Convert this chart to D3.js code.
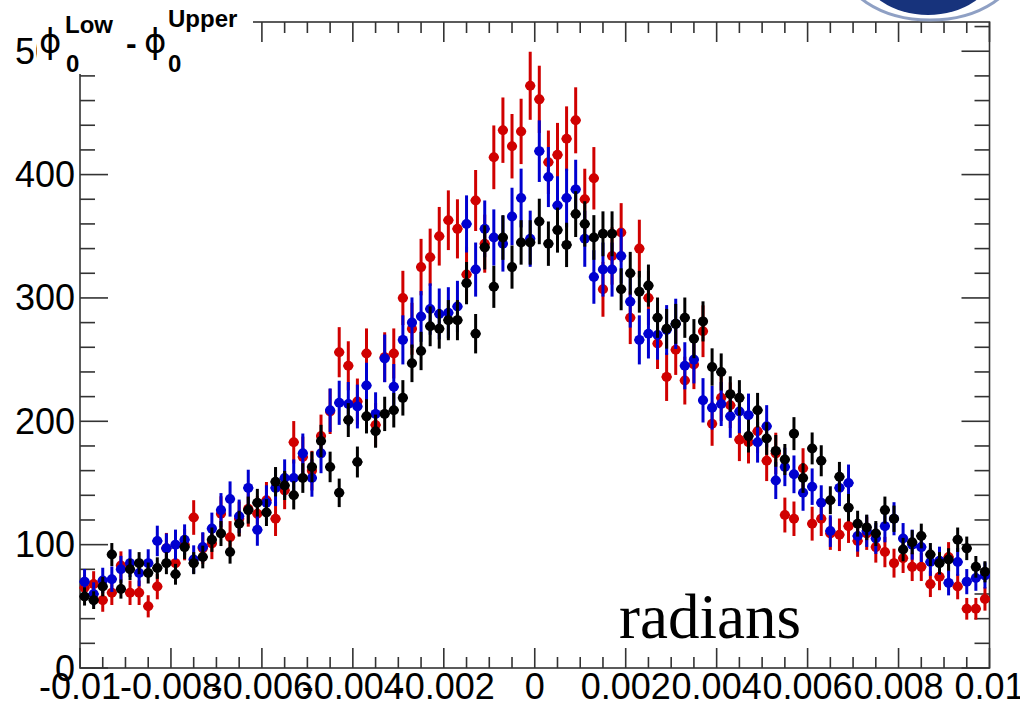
<!DOCTYPE html>
<html>
<head>
<meta charset="utf-8">
<script src="https://cdn.jsdelivr.net/npm/d3@7"></script>
<style>
  html, body { margin: 0; padding: 0; background: #ffffff; }
  svg { display: block; }
</style>
</head>
<body>
<svg id="chart" width="1020" height="712"></svg>
<script>
// Histogram binning (radians)
const xRange = [-0.01, 0.01];
const nBins = 100;

// Bin contents, one value per bin, left to right
const redCounts = [
  65, 68, 55, 61, 83, 61, 61, 50, 66, 97,
  85, 100, 122, 97, 101, 125, 106, 121, 129, 125,
  136, 121, 144, 183, 171, 160, 188, 208, 256, 245,
  216, 255, 197, 252, 255, 300, 275, 325, 333, 350,
  363, 356, 319, 379, 344, 414, 436, 423, 435, 472,
  461, 410, 416, 429, 444, 380, 397, 307, 334, 353,
  284, 340, 300, 263, 236, 258, 233, 246, 273, 198,
  219, 213, 185, 183, 192, 168, 174, 124, 121, 162,
  117, 121, 109, 108, 115, 103, 109, 98, 94, 85,
  89, 82, 82, 68, 74, 90, 66, 48, 48, 56
];
const blueCounts = [
  70, 60, 71, 72, 80, 85, 77, 85, 103, 97,
  100, 104, 88, 98, 113, 128, 137, 123, 146, 112,
  134, 146, 154, 154, 174, 154, 174, 209, 215, 214,
  212, 229, 206, 251, 228, 266, 280, 285, 291, 287,
  288, 293, 360, 323, 356, 349, 344, 366, 381, 348,
  419, 398, 375, 381, 388, 348, 317, 323, 323, 334,
  297, 266, 271, 270, 274, 279, 245, 250, 217, 211,
  214, 204, 208, 205, 183, 196, 152, 163, 157, 142,
  147, 134, 111, 146, 150, 107, 111, 105, 115, 121,
  105, 100, 98, 86, 87, 69, 86, 70, 73, 75
];
const blackCounts = [
  58, 55, 66, 92, 64, 80, 85, 77, 81, 85,
  76, 98, 85, 90, 104, 109, 94, 117, 128, 134,
  126, 151, 148, 140, 154, 163, 184, 163, 142, 201,
  167, 204, 192, 206, 209, 219, 247, 257, 277, 275,
  282, 282, 312, 271, 341, 309, 349, 325, 345, 345,
  362, 344, 355, 343, 368, 360, 349, 352, 352, 307,
  320, 305, 310, 284, 275, 279, 284, 267, 281, 244,
  240, 222, 219, 188, 209, 186, 176, 169, 190, 154,
  178, 168, 136, 155, 130, 117, 114, 109, 128, 121,
  96, 102, 107, 92, 85, 88, 104, 97, 82, 78
];

// Error-bar scale relative to sqrt(content), per histogram
const redErrScale = 1.27;
const blueErrScale = 1.22;
const blackErrScale = 0.97;

// Axis ticks and labels
const xTickValues = [-0.01, -0.008, -0.006, -0.004, -0.002, 0, 0.002, 0.004, 0.006, 0.008, 0.01];
const xTickLabels = ["-0.01", "-0.008", "-0.006", "-0.004", "-0.002", "0", "0.002", "0.004", "0.006", "0.008", "0.01"];
const xMinorStep = 0.0005;
const yTickValues = [0, 100, 200, 300, 400, 500];
const yTickLabels = ["0", "100", "200", "300", "400", "500"];
const yMinorStep = 20;
const yMax = 523.7;

const svg = d3.select("#chart");
const frame = { left: 80, right: 989.5, top: 22, bottom: 668 };

const x = d3.scaleLinear().domain(xRange).range([frame.left, frame.right]);
const y = d3.scaleLinear().domain([0, yMax]).range([frame.bottom, frame.top]);

const binWidth = (xRange[1] - xRange[0]) / nBins;
const binCenter = i => xRange[0] + (i + 0.5) * binWidth;

const axisColor = "#333333";
const labelFont = "'Liberation Sans', Arial, Helvetica, sans-serif";

// Frame
svg.append("rect")
  .attr("x", frame.left).attr("y", frame.top)
  .attr("width", frame.right - frame.left).attr("height", frame.bottom - frame.top)
  .attr("fill", "none").attr("stroke", axisColor).attr("stroke-width", 1.6);

// Ticks
const ticks = svg.append("g").attr("stroke", axisColor).attr("stroke-width", 1.6);
const xMinor = d3.range(Math.round((xRange[1] - xRange[0]) / xMinorStep) + 1).map(k => xRange[0] + k * xMinorStep);
xMinor.forEach(v => {
  const isMajor = xTickValues.some(t => Math.abs(t - v) < 1e-9);
  const len = isMajor ? 20 : 11;
  const px = x(v);
  ticks.append("line").attr("x1", px).attr("x2", px).attr("y1", frame.bottom).attr("y2", frame.bottom - len);
  ticks.append("line").attr("x1", px).attr("x2", px).attr("y1", frame.top).attr("y2", frame.top + len);
});
const yMinor = d3.range(0, yMax, yMinorStep);
yMinor.forEach(v => {
  const isMajor = yTickValues.includes(v);
  const len = isMajor ? 28 : 15;
  const py = y(v);
  ticks.append("line").attr("x1", frame.left).attr("x2", frame.left + len).attr("y1", py).attr("y2", py);
  ticks.append("line").attr("x1", frame.right).attr("x2", frame.right - len).attr("y1", py).attr("y2", py);
});

// Tick labels
svg.append("g").selectAll("text").data(xTickValues).join("text")
  .attr("x", d => x(d)).attr("y", 699)
  .attr("text-anchor", "middle")
  .attr("font-family", labelFont).attr("font-size", 36).attr("fill", "#000")
  .text((d, i) => xTickLabels[i]);

svg.append("g").selectAll("text").data(yTickValues).join("text")
  .attr("x", 75).attr("y", d => y(d))
  .attr("text-anchor", "end").attr("dominant-baseline", "central")
  .attr("font-family", labelFont).attr("font-size", 36).attr("fill", "#000")
  .text((d, i) => yTickLabels[i]);

// Histograms with error bars (drawn red, blue, then black on top)
const series = [
  { values: redCounts, color: "#d00000", errScale: redErrScale },
  { values: blueCounts, color: "#0000d0", errScale: blueErrScale },
  { values: blackCounts, color: "#000000", errScale: blackErrScale }
];
const halfBinPx = (x(binWidth) - x(0)) / 2;

series.forEach(s => {
  const g = svg.append("g").attr("stroke", s.color).attr("fill", s.color);
  s.values.forEach((v, i) => {
    const cx = x(binCenter(i));
    const err = Math.sqrt(v) * s.errScale;
    g.append("line").attr("x1", cx).attr("x2", cx)
      .attr("y1", y(v - err)).attr("y2", y(v + err)).attr("stroke-width", 3);
    g.append("line").attr("x1", cx - halfBinPx - 0.5).attr("x2", cx + halfBinPx + 0.5)
      .attr("y1", y(v)).attr("y2", y(v)).attr("stroke-width", 2);
    g.append("circle").attr("cx", cx).attr("cy", y(v)).attr("r", 5).attr("stroke", "none");
  });
});

// Axis title text
svg.append("text")
  .attr("x", 619).attr("y", 638)
  .attr("font-family", "'Liberation Serif', 'Times New Roman', serif")
  .attr("font-size", 63).attr("fill", "#000")
  .text("radians");

// Histogram title box
svg.append("rect").attr("x", 37).attr("y", 0).attr("width", 216).attr("height", 74).attr("fill", "#fff");
const title = svg.append("g").attr("font-family", labelFont).attr("fill", "#000");
const phiFont = "'DejaVu Sans', sans-serif";
title.append("text").attr("x", 39).attr("y", 53).attr("font-family", phiFont).attr("font-size", 34).text("\u03D5");
title.append("text").attr("x", 65).attr("y", 33).attr("font-size", 24).attr("font-weight", "bold").text("Low");
title.append("text").attr("x", 66).attr("y", 72).attr("font-size", 24).attr("font-weight", "bold").text("0");
title.append("text").attr("x", 126).attr("y", 54).attr("font-size", 32).attr("font-weight", "bold").text("-");
title.append("text").attr("x", 144).attr("y", 53).attr("font-family", phiFont).attr("font-size", 34).text("\u03D5");
title.append("text").attr("x", 168).attr("y", 27).attr("font-size", 24).attr("font-weight", "bold").text("Upper");
title.append("text").attr("x", 168).attr("y", 72).attr("font-size", 24).attr("font-weight", "bold").text("0");

// Emblem in the top-right corner
const emblem = svg.append("g");
emblem.append("ellipse").attr("cx", 930).attr("cy", -40).attr("rx", 90).attr("ry", 60)
  .attr("fill", "#ffffff").attr("stroke", "#8fa0c4").attr("stroke-width", 3);
emblem.append("ellipse").attr("cx", 928).attr("cy", -30).attr("rx", 65).attr("ry", 45)
  .attr("fill", "#17337c");
</script>
</body>
</html>
